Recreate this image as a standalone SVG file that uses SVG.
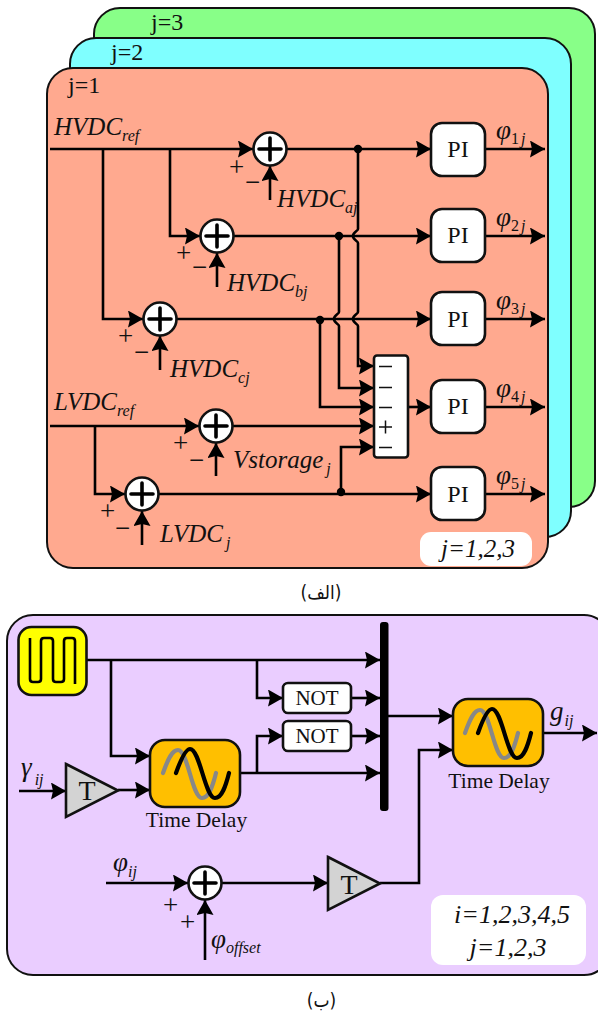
<svg xmlns="http://www.w3.org/2000/svg" width="598" height="1014" viewBox="0 0 598 1014">
<style>
text{font-family:"Liberation Serif","Times New Roman",serif;fill:#111}
.i{font-style:italic;font-size:25px}
.p{font-style:italic;font-size:27px}
.s{font-size:16px;font-style:italic}
.n{font-size:16px;font-style:normal}
.j{font-size:24px}
.pm{font-size:27px}
.a{fill:none;stroke:#000;stroke-width:2.6;marker-end:url(#ar)}
.panel{stroke:#111;stroke-width:2}
.box{fill:#fff;stroke:#111;stroke-width:2.6}
.c{text-anchor:middle}
.td{fill:#ffbf00;stroke:#111;stroke-width:2.6}
.tri{fill:#d3d3d3;stroke:#111;stroke-width:2.6}
text.ar{font-family:"DejaVu Sans Condensed","DejaVu Sans",sans-serif;font-stretch:condensed;font-size:19px;text-anchor:middle}
</style>
<defs>
<marker id="ar" markerUnits="userSpaceOnUse" markerWidth="16" markerHeight="18" refX="15" refY="8.500" orient="auto"><path d="M0 0L15 8.500L0 17L2 8.500Z" fill="#000"/></marker>
<g id="sum"><circle r="16.500" fill="#fff" stroke="#111" stroke-width="2.600"/><path d="M-11 0H11M0-11V11" stroke="#000" stroke-width="3.600" stroke-linecap="round"/></g>
<g id="sine"><path d="M-33 0C-28 -14 -24 -23 -18 -23C-8 -23 -4 25 6 25C13 25 17 12 20 0" fill="none" stroke="#888" stroke-width="4.200" stroke-linecap="round"/><path d="M-20 0C-15 -14 -10 -24 -6 -24C4 -24 9 25 19 25C26 25 30 12 33 0" fill="none" stroke="#000" stroke-width="4.200" stroke-linecap="round"/></g>
</defs>

<rect id="panel-j3" class="panel" x="94" y="8" width="501" height="499" rx="26" fill="#88ff88"/>
<rect id="panel-j2" class="panel" x="70" y="38" width="501" height="499" rx="26" fill="#7fffff"/>
<rect id="panel-j1" class="panel" x="47" y="68" width="501" height="500" rx="26" fill="#ffa98f"/>
<text x="151" y="30" class="j">j=3</text>
<text x="111" y="60" class="j">j=2</text>
<text x="68" y="93" class="j">j=1</text>

<g id="connectors-a">
<path class="a" d="M50 149H253"/>
<path class="a" d="M103 149V319H143"/>
<path class="a" d="M170 149V236H200"/>
<path class="a" d="M287 149H431"/>
<path class="a" d="M234 236H431"/>
<path class="a" d="M177 319H431"/>
<path class="a" d="M50 426H199"/>
<path class="a" d="M95 426V494H125"/>
<path class="a" d="M233 426H374"/>
<path class="a" d="M159 494H431"/>
<path class="a" d="M358 149V229C358 231 353 232 353 236C353 240 358 241 358 243V312C358 314 353 315 353 319C353 323 358 324 358 326V366H374"/>
<path class="a" d="M339 236V312C339 314 334 315 334 319C334 323 339 324 339 326V388H374"/>
<path class="a" d="M320 319V407H374"/>
<path class="a" d="M341 491V447H374"/>
<path class="a" d="M408 407H431"/>
<path class="a" d="M270 200V166"/>
<path class="a" d="M217 287V253"/>
<path class="a" d="M160 370V336"/>
<path class="a" d="M216 476V443"/>
<path class="a" d="M142 545V511"/>
<path class="a" d="M485 149H545"/>
<path class="a" d="M485 236H545"/>
<path class="a" d="M485 319H545"/>
<path class="a" d="M485 407H545"/>
<path class="a" d="M485 494H545"/>
<circle cx="358" cy="149" r="4.200"/><circle cx="339" cy="236" r="4.200"/><circle cx="320" cy="320" r="4.200"/><circle cx="341" cy="492" r="4.200"/>
</g>

<g id="sum1"><use href="#sum" x="270" y="149"/><text x="229" y="176" class="pm">+</text><text x="245" y="191" class="pm">−</text></g>
<g id="sum2"><use href="#sum" x="217" y="236"/><text x="176" y="262" class="pm">+</text><text x="192" y="276" class="pm">−</text></g>
<g id="sum3"><use href="#sum" x="160" y="319"/><text x="118" y="345" class="pm">+</text><text x="134" y="361" class="pm">−</text></g>
<g id="sum4"><use href="#sum" x="216" y="426"/><text x="173" y="452" class="pm">+</text><text x="189" y="469" class="pm">−</text></g>
<g id="sum5"><use href="#sum" x="142" y="494"/><text x="100" y="520" class="pm">+</text><text x="115" y="537" class="pm">−</text></g>

<g id="pi1"><rect class="box" x="431" y="123" width="54" height="53" rx="11"/><text x="458" y="157" class="c" font-size="24">PI</text></g>
<g id="pi2"><rect class="box" x="431" y="209" width="54" height="53" rx="11"/><text x="458" y="243" class="c" font-size="24">PI</text></g>
<g id="pi3"><rect class="box" x="431" y="292" width="54" height="53" rx="11"/><text x="458" y="327" class="c" font-size="24">PI</text></g>
<g id="pi4"><rect class="box" x="431" y="380" width="54" height="53" rx="11"/><text x="458" y="414" class="c" font-size="24">PI</text></g>
<g id="pi5"><rect class="box" x="431" y="467" width="54" height="53" rx="11"/><text x="458" y="502" class="c" font-size="24">PI</text></g>

<g id="mux"><rect class="box" x="374" y="355.500" width="34" height="102" rx="3"/>
<path d="M379 366.500H392M379 387.500H392M379 407.500H392M379 447.500H392M379 427H392M385.500 420.500V433.500" stroke="#111" stroke-width="1.500" fill="none"/></g>

<g id="labels-a">
<text x="54" y="135" class="i">HVDC<tspan class="s" dy="6">ref</tspan></text>
<text x="277" y="207" class="i">HVDC<tspan class="s" dy="6">aj</tspan></text>
<text x="227" y="291" class="i">HVDC<tspan class="s" dy="6">bj</tspan></text>
<text x="170" y="377" class="i">HVDC<tspan class="s" dy="6">cj</tspan></text>
<text x="54" y="410" class="i">LVDC<tspan class="s" dy="6">ref</tspan></text>
<text x="233" y="468" class="i">Vstorage<tspan class="s" dy="6" dx="3">j</tspan></text>
<text x="160" y="542" class="i">LVDC<tspan class="s" dy="6" dx="3">j</tspan></text>
<text x="496" y="139" class="p">φ<tspan class="n" dy="5">1</tspan><tspan class="s" dx="2">j</tspan></text>
<text x="496" y="226" class="p">φ<tspan class="n" dy="5">2</tspan><tspan class="s" dx="2">j</tspan></text>
<text x="496" y="309" class="p">φ<tspan class="n" dy="5">3</tspan><tspan class="s" dx="2">j</tspan></text>
<text x="496" y="397" class="p">φ<tspan class="n" dy="5">4</tspan><tspan class="s" dx="2">j</tspan></text>
<text x="496" y="484" class="p">φ<tspan class="n" dy="5">5</tspan><tspan class="s" dx="2">j</tspan></text>
</g>
<g id="note-a"><rect x="420" y="532" width="112" height="34" rx="11" fill="#fff"/><text x="478" y="557" class="i c">j=1,2,3</text></g>
<text x="321" y="599" class="ar">(الف)</text>

<rect id="panel-b" class="panel" x="7" y="615" width="603" height="360" rx="26" fill="#eacdff"/>

<g id="connectors-b">
<path class="a" d="M86 660H380"/>
<path class="a" d="M111 660V756H150"/>
<path class="a" d="M257 660V698H283"/>
<path class="a" d="M240 773H380"/>
<path class="a" d="M257 773V736H283"/>
<path class="a" d="M351 698H380"/>
<path class="a" d="M351 736H380"/>
<path class="a" d="M19 791H66"/>
<path class="a" d="M118 790H150"/>
<path class="a" d="M388 716H453"/>
<path class="a" d="M380 883H419V750H453"/>
<path class="a" d="M543 733H597"/>
<path class="a" d="M106 883H188"/>
<path class="a" d="M222 883H328"/>
<path class="a" d="M205 960V900"/>
</g>
<g id="pulse"><rect x="18.500" y="627" width="68" height="68" rx="13" fill="#ffff00" stroke="#111" stroke-width="2.600"/><path d="M30 638V679Q30 682 33 682H38Q41 682 41 679V641Q41 638 44 638H50Q53 638 53 641V679Q53 682 56 682H61Q64 682 64 679V641Q64 638 67 638H72Q75 638 75 641V684" fill="none" stroke="#000" stroke-width="2.600"/></g>
<g id="delay1"><rect class="td" x="150" y="740" width="90" height="67" rx="15"/><use href="#sine" x="196" y="773"/></g>
<text x="196.500" y="827" class="c" font-size="21.500">Time Delay</text>
<g id="delay2"><rect class="td" x="453" y="699" width="90" height="67" rx="15"/><use href="#sine" x="498" y="733"/></g>
<text x="499" y="788" class="c" font-size="21.500">Time Delay</text>
<g id="not1"><rect class="box" x="283" y="683" width="68" height="30" rx="5"/><text x="317" y="705" class="c" font-size="21">NOT</text></g>
<g id="not2"><rect class="box" x="283" y="721" width="68" height="30" rx="5"/><text x="317" y="743" class="c" font-size="21">NOT</text></g>
<rect id="bar" x="380" y="622" width="8.500" height="189" rx="3" fill="#000"/>
<g id="gain1"><path class="tri" d="M66 764L118 790.500L66 817Z"/><text x="87" y="800" class="c" font-size="28">T</text></g>
<g id="gain2"><path class="tri" d="M328 857L380 883.500L328 910Z"/><text x="349" y="894" class="c" font-size="28">T</text></g>
<g id="sum6"><use href="#sum" x="205" y="883"/><text x="163" y="914" class="pm">+</text><text x="180" y="931" class="pm">+</text></g>
<g id="labels-b">
<text x="21" y="776" class="p">γ<tspan class="s" dy="9" dx="3">ij</tspan></text>
<text x="550" y="720" class="p">g<tspan class="s" dy="6" dx="1">ij</tspan></text>
<text x="113" y="871" class="p">φ<tspan class="s" dy="6">ij</tspan></text>
<text x="211" y="948" class="p">φ<tspan class="s" dy="5">offset</tspan></text>
</g>
<g id="note-b"><rect x="431" y="895" width="155" height="70" rx="12" fill="#fff"/><text x="512" y="923" class="c" style="font-style:italic;font-size:26px">i=1,2,3,4,5</text><text x="508" y="956" class="c" style="font-style:italic;font-size:26px">j=1,2,3</text></g>
<text x="321.500" y="1007" class="ar">(ب)</text>
</svg>
